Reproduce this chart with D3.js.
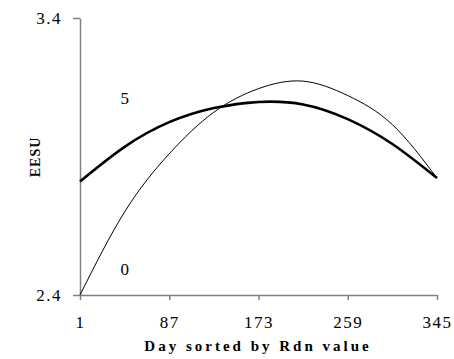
<!DOCTYPE html>
<html>
  <head>
    <meta charset="utf-8" />
    <title>EESU</title>
    <script src="https://d3js.org/d3.v7.min.js"></script>
    <style>
      body { margin: 0; background: #fff; }
      text { font-family: 'Liberation Serif', 'Times New Roman', serif; fill: #000; }
    </style>
  </head>
  <body>
    <script>
      // days on x axis
      const days = [1, 44, 87, 130, 173, 216, 259, 302, 345];
      const dayTicks = [1, 87, 173, 259, 345];
      const valueTicks = [2.4, 3.4];
      // series
      const series5 = [2.81, 2.935, 3.024, 3.075, 3.097, 3.088, 3.035, 2.945, 2.822];
      const series0 = [2.4, 2.7, 2.91, 3.06, 3.145, 3.172, 3.12, 3.015, 2.822];
      const seriesNames = ['5', '0'];
      // label anchors in data units (day, value)
      const labelDays = [44, 44];
      const labelValues = [3.09, 2.472];

      const W = 454, H = 359;
      const svg = d3.select('body').append('svg').attr('width', W).attr('height', H);

      const x = d3.scaleLinear().domain([1, 345]).range([80, 437]);
      const y = d3.scaleLinear().domain([2.4, 3.4]).range([295, 18]);

      const yAxis = svg.append('g')
        .attr('transform', 'translate(80,0)')
        .call(d3.axisLeft(y).tickValues(valueTicks).tickSize(7).tickSizeOuter(0).tickPadding(11)
          .tickFormat(d3.format('.1f')));
      const xAxis = svg.append('g')
        .attr('transform', 'translate(0,295)')
        .call(d3.axisBottom(x).tickValues(dayTicks).tickSize(5).tickSizeOuter(0).tickPadding(16));

      [yAxis, xAxis].forEach((g) => {
        g.selectAll('path, line').attr('stroke', '#808080').attr('stroke-width', 1.5);
        g.selectAll('text')
          .style('font-family', "'Liberation Serif', 'Times New Roman', serif")
          .style('font-size', '17px')
          .style('letter-spacing', '1.5px')
          .attr('fill', '#000');
      });

      const line = d3.line().x((d, i) => x(days[i])).y((d) => y(d)).curve(d3.curveNatural);

      svg.append('path').datum(series0)
        .attr('d', line).attr('fill', 'none').attr('stroke', '#000').attr('stroke-width', 1);
      svg.append('path').datum(series5)
        .attr('d', line).attr('fill', 'none').attr('stroke', '#000').attr('stroke-width', 2.6);

      svg.selectAll('.lbl').data(seriesNames).enter().append('text')
        .attr('class', 'lbl')
        .attr('x', (d, i) => x(labelDays[i]))
        .attr('y', (d, i) => y(labelValues[i]))
        .attr('text-anchor', 'middle')
        .style('font-size', '17px')
        .text((d) => d);

      svg.append('text')
        .attr('x', 258)
        .attr('y', 351)
        .attr('text-anchor', 'middle')
        .style('font-size', '15px')
        .style('font-weight', 'bold')
        .style('letter-spacing', '3px')
        .text('Day sorted by Rdn value');

      svg.append('text')
        .attr('transform', 'translate(40,157) rotate(-90)')
        .attr('text-anchor', 'middle')
        .style('font-size', '14px')
        .style('font-weight', 'bold')
        .style('letter-spacing', '1px')
        .text('EESU');
    </script>
  </body>
</html>
